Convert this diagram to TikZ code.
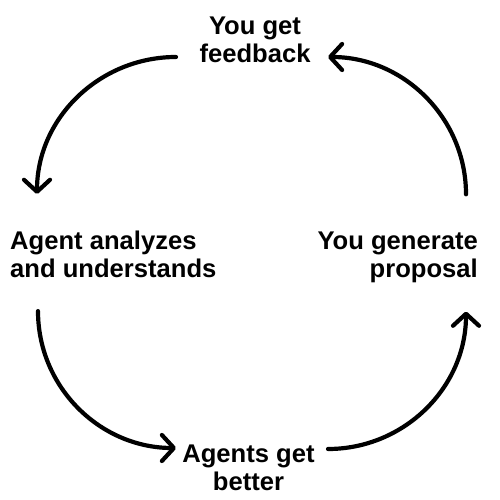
\documentclass[tikz,border=0pt]{standalone}
\usepackage{fontspec}
\setmainfont{Liberation Sans}
\usetikzlibrary{arrows.meta}
\begin{document}
\begin{tikzpicture}[
        x=1pt, y=1pt,
        lbl/.style = {font=\bfseries\fontsize{25.6}{28}\selectfont, inner sep=0pt},
        cyc/.style = {-{Straight Barb[length=12pt,width=26pt,round]}, line width=4.2pt, line cap=round},
    ]
        \useasboundingbox (0,0) rectangle (500,500);
        \node[lbl,align=center] (fb) at (255,460.5) {You get\\feedback};
        \node[lbl,align=left,anchor=west] (ag) at (10,245.5) {Agent analyzes\\and understands};
        \node[lbl,align=right,anchor=east] (yg) at (478,243) {You generate\\proposal};
        \node[lbl,align=center] (bt) at (248.5,32.5) {Agents get\\better};
        \draw[cyc] ([shift={(-79,-17.5)}]fb.center) to[out=180,in=90] ([shift={(27,37)}]ag.north west);
        \draw[cyc] ([shift={(28,-33)}]ag.south west) to[out=-90,in=180] ([shift={(-72.5,19.5)}]bt.center);
        \draw[cyc] ([shift={(79.5,18.5)}]bt.center) to[out=0,in=-90] ([shift={(-12,-29)}]yg.south east);
        \draw[cyc] ([shift={(-12,37)}]yg.north east) to[out=90,in=0] ([shift={(73,-17.5)}]fb.center);
\end{tikzpicture}
\end{document}
